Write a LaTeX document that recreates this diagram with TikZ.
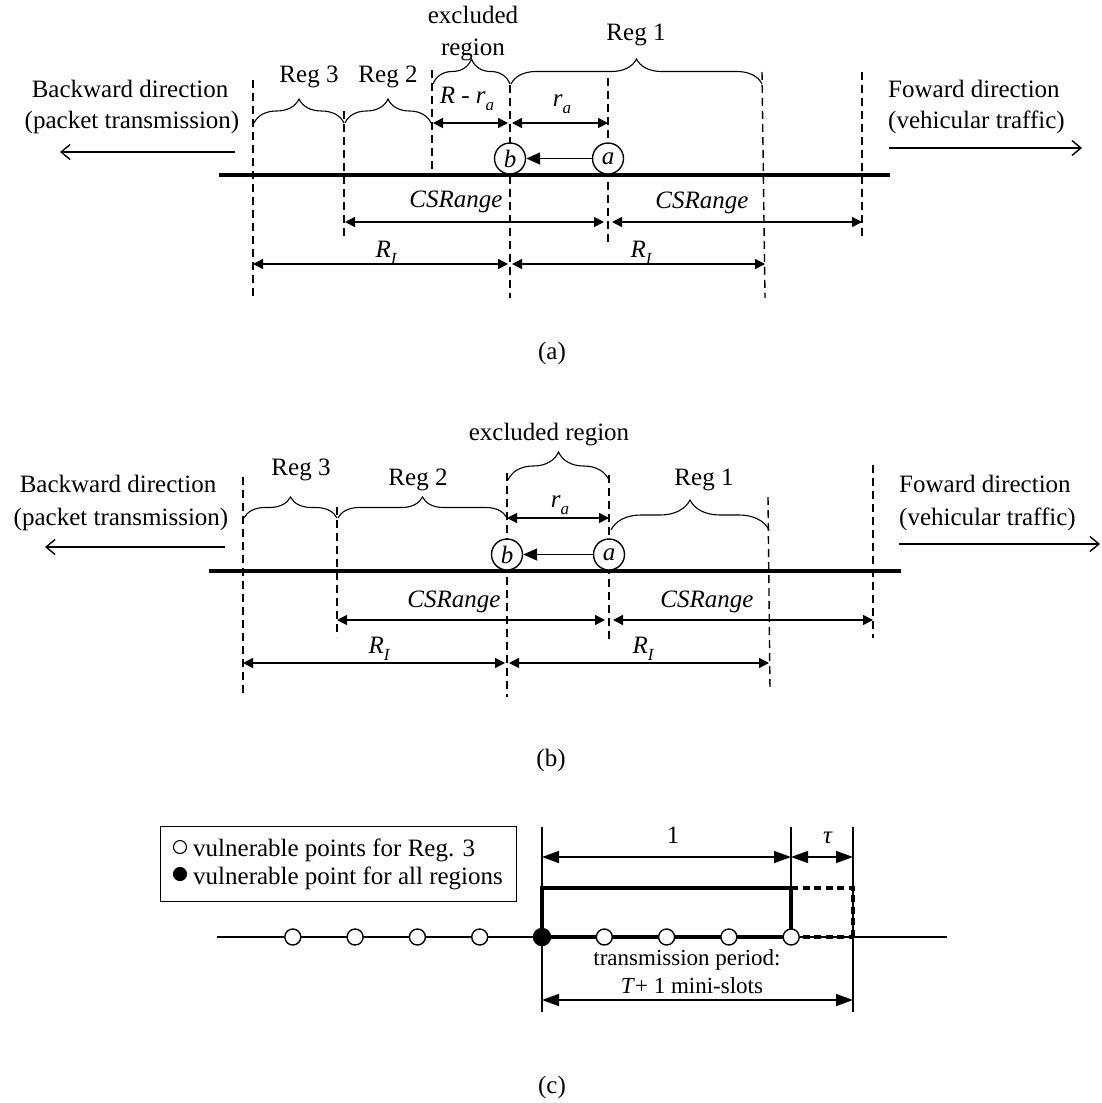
\documentclass[tikz,border=0pt]{standalone}
\usepackage{fontspec}
\setmainfont{Liberation Serif}
\usetikzlibrary{arrows.meta,decorations.pathreplacing}
\newcommand\lsub[1]{\raisebox{-0.28em}{\fontsize{17}{17}\selectfont\itshape #1}}
\begin{document}
\begin{tikzpicture}[x=1pt,y=-1pt,
  dim/.style={line width=1.5pt,{Triangle[length=10pt,width=10pt]}-{Triangle[length=10pt,width=10pt]}},
  dimc/.style={line width=1.5pt,{Triangle[length=17pt,width=12pt]}-{Triangle[length=17pt,width=12pt]}},
  guide/.style={line width=1.4pt,dash pattern=on 8pt off 5pt},
  road/.style={line width=3.2pt},
  thin/.style={line width=1.5pt},
  veh/.style={circle,draw,line width=1.4pt,fill=white,minimum size=31pt,inner sep=0pt,font=\itshape\fontsize{25}{25}\selectfont},
  lbl/.style={font=\fontsize{25}{28}\selectfont,inner sep=0pt,anchor=base},
  lblw/.style={font=\fontsize{25}{28}\selectfont,inner sep=0pt,anchor=base west},
  slbl/.style={font=\fontsize{23}{26}\selectfont,inner sep=0pt,anchor=base},
  brc/.style={decorate,line width=1.1pt,decoration={brace,amplitude=#1}},
  dirarrow/.style={line width=1.4pt,-{Straight Barb[length=9pt,width=15pt]}},
  vpt/.style={circle,draw,line width=1.4pt,fill=white,minimum size=16pt,inner sep=0pt},
  vptf/.style={circle,draw,line width=1.4pt,fill=black,minimum size=17pt,inner sep=0pt},
  lgo/.style={circle,draw,line width=1.1pt,fill=white,minimum size=13pt,inner sep=0pt},
  lgf/.style={circle,draw,line width=1.1pt,fill=black,minimum size=13pt,inner sep=0pt},
  thick/.style={line width=4pt},
  thickdash/.style={line width=4pt,dash pattern=on 7pt off 4.5pt}
]
\useasboundingbox (0,0) rectangle (1102,1103);

% ================= (a) =================
\draw[guide] (253,80) -- (253,296);
\draw[guide] (344,111) -- (344,239);
\draw[guide] (432,70) -- (432,175);
\draw[guide] (510,85) -- (510,298);
\draw[guide] (608,78) -- (608,244);
\draw[guide] (762,72) -- (765,298);
\draw[guide] (862,72) -- (862,240);
\draw[road] (219,175) -- (890,175);

\draw[brc=24pt] (254,123) -- (344,123);
\draw[brc=24pt] (345,123) -- (431,123);
\draw[brc=25pt] (433,84) -- (510,84);
\draw[brc=25pt] (511,84) -- (762,84);

\node[lbl] (aReg3) at (309,82) {Reg 3};
\node[lbl] (aReg2) at (388,82) {Reg 2};
\node[lbl] (aExc1) at (473,23) {excluded};
\node[lbl] (aExc2) at (473,55) {region};
\node[lbl] (aReg1) at (636,40) {Reg 1};

\coordinate (aRl) at (433,123);
\coordinate (aRb) at (508,123);
\coordinate (aRbb) at (512,123);
\coordinate (aRa) at (608,123);
\draw[dim] (aRl) -- (aRb);
\draw[dim] (aRbb) -- (aRa);
\node[lbl] (aRr) at (467,103) {\textit{R} - \textit{r}\lsub{a}};
\node[lbl] (ara) at (562,106) {\textit{r}\lsub{a}};

\coordinate (aCl) at (345,222);
\coordinate (aCm1) at (604,222);
\coordinate (aCm2) at (612,222);
\coordinate (aCr) at (862,222);
\draw[dim] (aCl) -- (aCm1);
\draw[dim] (aCm2) -- (aCr);
\node[lbl] (aCS1) at (456,207) {\textit{CSRange}};
\node[lbl] (aCS2) at (702,208) {\textit{CSRange}};

\coordinate (aIl) at (253,264);
\coordinate (aIm1) at (508,264);
\coordinate (aIm2) at (512,264);
\coordinate (aIr) at (765,264);
\draw[dim] (aIl) -- (aIm1);
\draw[dim] (aIm2) -- (aIr);
\node[lbl] (aRI1) at (386,257) {\textit{R}\lsub{I}};
\node[lbl] (aRI2) at (641,257) {\textit{R}\lsub{I}};

\node[lbl] (aBw1) at (130,97) {Backward direction};
\node[lbl] (aBw2) at (132,128) {(packet transmission)};
\coordinate (aBwS) at (235,152);
\coordinate (aBwE) at (60,152);
\draw[dirarrow] (aBwS) -- (aBwE);
\node[lblw] (aFw1) at (888,97) {Foward direction};
\node[lblw] (aFw2) at (888,128) {(vehicular traffic)};
\coordinate (aFwS) at (889,148);
\coordinate (aFwE) at (1082,148);
\draw[dirarrow] (aFwS) -- (aFwE);

\node[veh] (vb) at (510,158.5) {b};
\node[veh] (va) at (608,158.5) {a};
\draw[line width=1.5pt,-{Triangle[length=14pt,width=12pt]}] (va) -- (vb);

\node[lbl,anchor=center] (capa) at (552,353) {(a)};

% ================= (b) =================
\draw[guide] (243,477) -- (243,695);
\draw[guide] (337,507) -- (337,637);
\draw[guide] (507,473) -- (507,697);
\draw[guide] (609,475) -- (609,642);
\draw[guide] (768,497) -- (770,690);
\draw[guide] (873,465) -- (873,638);
\draw[road] (209,571) -- (901,571);

\draw[brc=21pt] (244,518) -- (337,518);
\draw[brc=21pt] (338,518) -- (507,518);
\draw[brc=28pt] (508,480) -- (609,480);
\draw[brc=30pt] (611,530) -- (769,530);

\node[lbl] (bReg3) at (301,475) {Reg 3};
\node[lbl] (bReg2) at (418,485) {Reg 2};
\node[lbl] (bExc) at (549,440) {excluded region};
\node[lbl] (bReg1) at (704,485) {Reg 1};

\coordinate (bRb) at (507,518);
\coordinate (bRa) at (609,518);
\draw[dim] (bRb) -- (bRa);
\node[lbl] (bra) at (560,507) {\textit{r}\lsub{a}};

\coordinate (bCl) at (337,620);
\coordinate (bCm1) at (605,620);
\coordinate (bCm2) at (613,620);
\coordinate (bCr) at (873,620);
\draw[dim] (bCl) -- (bCm1);
\draw[dim] (bCm2) -- (bCr);
\node[lbl] (bCS1) at (454,607) {\textit{CSRange}};
\node[lbl] (bCS2) at (707,607) {\textit{CSRange}};

\coordinate (bIl) at (243,663);
\coordinate (bIm1) at (505,663);
\coordinate (bIm2) at (509,663);
\coordinate (bIr) at (769,663);
\draw[dim] (bIl) -- (bIm1);
\draw[dim] (bIm2) -- (bIr);
\node[lbl] (bRI1) at (379,653) {\textit{R}\lsub{I}};
\node[lbl] (bRI2) at (643,653) {\textit{R}\lsub{I}};

\node[lbl] (bBw1) at (118,492) {Backward direction};
\node[lbl] (bBw2) at (121,525) {(packet transmission)};
\coordinate (bBwS) at (225,547);
\coordinate (bBwE) at (45,547);
\draw[dirarrow] (bBwS) -- (bBwE);
\node[lblw] (bFw1) at (899,492) {Foward direction};
\node[lblw] (bFw2) at (899,525) {(vehicular traffic)};
\coordinate (bFwS) at (899,544);
\coordinate (bFwE) at (1100,544);
\draw[dirarrow] (bFwS) -- (bFwE);

\node[veh] (wb) at (507,554.5) {b};
\node[veh] (wa) at (609,554.5) {a};
\draw[line width=1.5pt,-{Triangle[length=14pt,width=12pt]}] (wa) -- (wb);

\node[lbl,anchor=center] (capb) at (551,760) {(b)};

% ================= (c) =================
\node[draw,line width=1.4pt,minimum width=356pt,minimum height=75pt,anchor=north west,inner sep=0pt] (legend) at (160,826) {};
\node[lgo] (lgo1) at (180,847) {};
\node[lgf] (lgf1) at (180,874) {};
\node[lblw] (lgt1) at (193,856) {vulnerable points for Reg. 3};
\node[lblw] (lgt2) at (193,884) {vulnerable point for all regions};

\coordinate (cL) at (217,937);
\coordinate (cR) at (947,937);
\draw[thin] (cL) -- (cR);

\coordinate (c0t) at (542,827);
\coordinate (c0b) at (542,1012);
\coordinate (c4t) at (791,827);
\coordinate (c4m) at (791,888);
\coordinate (c5t) at (853,827);
\coordinate (c5b) at (853,1012);
\draw[thin] (c0t) -- (c0b);
\draw[thin] (c4t) -- (c4m);
\draw[thin] (c5t) -- (c5b);

\draw[thick] (542,937) -- (542,888) -- (791,888) -- (791,937);
\draw[thick] (542,937) -- (791,937);
\draw[thickdash] (791,888) -- (853,888) -- (853,937);
\draw[thickdash] (791,937) -- (853,937);

\coordinate (d1l) at (542,857);
\coordinate (d1r) at (791,857);
\coordinate (d2r) at (853,857);
\draw[dimc] (d1l) -- (d1r);
\draw[dimc] (d1r) -- (d2r);
\node[lbl] (one) at (673,843) {1};
\node[lbl] (tau) at (828,843) {\textit{τ}};

\coordinate (d3l) at (542,1000);
\coordinate (d3r) at (853,1000);
\draw[dimc] (d3l) -- (d3r);
\node[slbl] (tp1) at (687,965) {transmission period:};
\node[slbl] (tp2) at (692,993) {\textit{T}+ 1 mini-slots};

\foreach \k in {-4,-3,-2,-1,1,2,3,4} {
  \node[vpt] (p\k) at ({542+62.3*\k},937) {};
}
\node[vptf] (p0) at (542,937) {};

\node[lbl,anchor=center] (capc) at (552,1087) {(c)};
\end{tikzpicture}
\end{document}
